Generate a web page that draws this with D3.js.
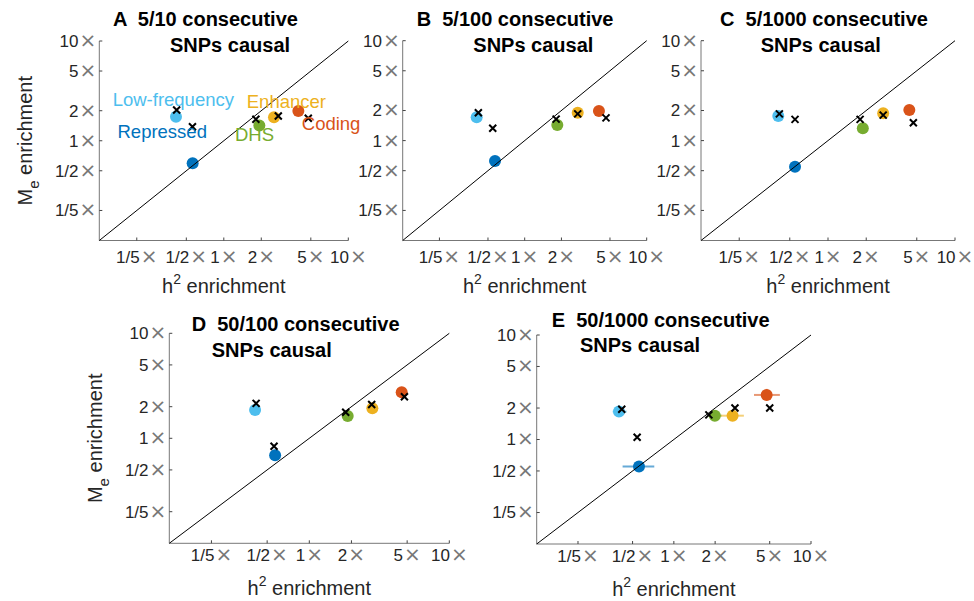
<!DOCTYPE html>
<html lang="en">
<head>
<meta charset="UTF-8">
<title>Me vs h2 enrichment</title>
<script src="https://d3js.org/d3.v7.min.js"></script>
<style>
    body { margin: 0; background: #fff; }
    svg { font-family: "Liberation Sans", Arial, Helvetica, sans-serif; }
</style>
</head>
<body>
<div id="chart"></div>
<script>
    // categories and colours (MATLAB default order)
    var categories = ["Low-frequency", "Repressed", "DHS", "Enhancer", "Coding"];
    var catColors = ["#4DBEEE", "#0072BD", "#77AC30", "#EDB120", "#D95319"];

    var tickValues = [0.2, 0.5, 1, 2, 5, 10];
    var tickLabels = ["1/5", "1/2", "1", "2", "5", "10"];

    var panelLetters = ["A", "B", "C", "D", "E"];
    var panelTitles = ["5/10 consecutive", "5/100 consecutive", "5/1000 consecutive",
                       "50/100 consecutive", "50/1000 consecutive"];

    // estimated enrichments (circles), one value per category
    var estH2_A = [0.413, 0.562, 1.93, 2.53, 3.97];
    var estMe_A = [1.74, 0.594, 1.42, 1.72, 1.99];
    var estH2_B = [0.404, 0.571, 1.85, 2.72, 4.06];
    var estMe_B = [1.71, 0.625, 1.43, 1.90, 1.98];
    var estH2_C = [0.406, 0.55, 1.88, 2.72, 4.37];
    var estMe_C = [1.76, 0.548, 1.33, 1.88, 2.02];
    var estH2_D = [0.41, 0.57, 1.88, 2.82, 4.57];
    var estMe_D = [1.86, 0.69, 1.63, 1.93, 2.74];
    var estH2_E = [0.398, 0.557, 1.99, 2.68, 4.75];
    var estMe_E = [1.85, 0.553, 1.69, 1.69, 2.67];

    // true simulated enrichments (x markers)
    var trueH2_A = [0.418, 0.56, 1.81, 2.74, 4.77];
    var trueMe_A = [2.03, 1.38, 1.64, 1.77, 1.68];
    var trueH2_B = [0.417, 0.547, 1.81, 2.72, 4.64];
    var trueMe_B = [1.90, 1.33, 1.64, 1.85, 1.69];
    var trueH2_C = [0.414, 0.55, 1.79, 2.72, 4.70];
    var trueMe_C = [1.85, 1.63, 1.63, 1.80, 1.51];
    var trueH2_D = [0.417, 0.56, 1.82, 2.79, 4.78];
    var trueMe_D = [2.15, 0.84, 1.77, 2.10, 2.49];
    var trueH2_E = [0.417, 0.54, 1.80, 2.79, 5.0];
    var trueMe_E = [1.95, 1.05, 1.72, 2.0, 2.0];

    // error bars, only visible in panel E
    var errH2Lo_E = [0.358, 0.423, 1.77, 2.19, 3.84];
    var errH2Hi_E = [0.453, 0.72, 2.23, 3.24, 5.93];
    var errMeLo_E = [1.80, 0.54, 1.64, 1.545, 2.36];
    var errMeHi_E = [1.90, 0.565, 1.74, 1.85, 3.05];

    // category label anchors for panel A (data coords)
    var labelH2 = [0.128, 0.14, 1.23, 1.53, 4.23];
    var labelMe = [2.25, 1.06, 0.994, 2.14, 1.28];

    var estH2 = [estH2_A, estH2_B, estH2_C, estH2_D, estH2_E];
    var estMe = [estMe_A, estMe_B, estMe_C, estMe_D, estMe_E];
    var trueH2 = [trueH2_A, trueH2_B, trueH2_C, trueH2_D, trueH2_E];
    var trueMe = [trueMe_A, trueMe_B, trueMe_C, trueMe_D, trueMe_E];

    // axes boxes in pixels
    var boxes = [
        {left: 99.3, right: 348.3, top: 41, bottom: 240.5, tickOff: 22, title: [113, 26, 170, 52], yLabel: true},
        {left: 402.7, right: 646.7, top: 40.7, bottom: 240.5, tickOff: 22, title: [416.7, 26, 473.3, 52], yLabel: false},
        {left: 701, right: 955, top: 40.7, bottom: 240.5, tickOff: 22, title: [720, 26, 760.7, 52], yLabel: false},
        {left: 169.3, right: 449.3, top: 333.3, bottom: 543.3, tickOff: 18, title: [191.7, 330.7, 211.7, 356.7], yLabel: true},
        {left: 536.7, right: 811, top: 335, bottom: 544, tickOff: 18, title: [551.7, 326.7, 580, 351.7], yLabel: false}
    ];

    var svg = d3.select("#chart").append("svg")
        .attr("width", 974)
        .attr("height", 601);

    boxes.forEach(function(b, p) {
        drawPanel(b, p);
    });

    // tick label like "1/2 x"
    function addTickText(sel, label) {
        sel.append("tspan").text(label);
        sel.append("tspan")
            .attr("font-family", "DejaVu Sans")
            .attr("font-size", "20px")
            .attr("dx", 1)
            .attr("fill", "#777")
            .text("\u00d7");
    }

    function drawPanel(b, p) {
        var x = d3.scaleLog().domain([0.1, 10]).range([b.left, b.right]);
        var y = d3.scaleLog().domain([0.1, 10]).range([b.bottom, b.top]);
        var g = svg.append("g");

        // axis lines
        g.append("line").attr("x1", b.left).attr("x2", b.right)
            .attr("y1", b.bottom).attr("y2", b.bottom)
            .attr("stroke", "#777").attr("stroke-width", 1);
        g.append("line").attr("x1", b.left).attr("x2", b.left)
            .attr("y1", b.bottom).attr("y2", b.top)
            .attr("stroke", "#777").attr("stroke-width", 1);

        // ticks pointing inwards
        g.selectAll(".xt").data(tickValues).enter().append("line")
            .attr("x1", function(d) { return x(d); })
            .attr("x2", function(d) { return x(d); })
            .attr("y1", b.bottom).attr("y2", b.bottom - 3)
            .attr("stroke", "#444");
        g.selectAll(".yt").data(tickValues).enter().append("line")
            .attr("y1", function(d) { return y(d); })
            .attr("y2", function(d) { return y(d); })
            .attr("x1", b.left).attr("x2", b.left + 3)
            .attr("stroke", "#444");

        tickValues.forEach(function(v, i) {
            var tx = g.append("text")
                .attr("x", x(v)).attr("y", b.bottom + b.tickOff)
                .attr("text-anchor", "middle")
                .attr("font-size", "17px").attr("fill", "#262626");
            addTickText(tx, tickLabels[i]);
            var ty = g.append("text")
                .attr("x", b.left - 3).attr("y", y(v))
                .attr("dy", "0.35em")
                .attr("text-anchor", "end")
                .attr("font-size", "17px").attr("fill", "#262626");
            addTickText(ty, tickLabels[i]);
        });

        // axis labels
        var xl = g.append("text")
            .attr("x", (b.left + b.right) / 2).attr("y", b.bottom + 52)
            .attr("text-anchor", "middle")
            .attr("font-size", "20px").attr("fill", "#262626");
        xl.append("tspan").text("h");
        xl.append("tspan").attr("font-size", "14px").attr("dy", -9).text("2");
        xl.append("tspan").attr("dy", 9).text(" enrichment");

        if (b.yLabel) {
            var cy = (b.top + b.bottom) / 2;
            var yl = g.append("text")
                .attr("transform", "translate(" + (b.left - 67) + "," + cy + ") rotate(-90)")
                .attr("text-anchor", "middle")
                .attr("font-size", "20px").attr("fill", "#262626");
            yl.append("tspan").text("M");
            yl.append("tspan").attr("font-size", "15px").attr("dy", 7).text("e");
            yl.append("tspan").attr("dy", -7).text(" enrichment");
        }

        // title in two lines
        g.append("text")
            .attr("x", b.title[0]).attr("y", b.title[1])
            .attr("font-size", "20px").attr("font-weight", "bold")
            .attr("xml:space", "preserve")
            .text(panelLetters[p] + "  " + panelTitles[p]);
        g.append("text")
            .attr("x", b.title[2]).attr("y", b.title[3])
            .attr("font-size", "20px").attr("font-weight", "bold")
            .text("SNPs causal");

        // error bars for panel E
        if (p === 4) {
            categories.forEach(function(c, i) {
                g.append("line")
                    .attr("x1", x(errH2Lo_E[i])).attr("x2", x(errH2Hi_E[i]))
                    .attr("y1", y(estMe_E[i])).attr("y2", y(estMe_E[i]))
                    .attr("stroke", catColors[i]).attr("stroke-opacity", 0.6)
                    .attr("stroke-width", 2);
                g.append("line")
                    .attr("x1", x(estH2_E[i])).attr("x2", x(estH2_E[i]))
                    .attr("y1", y(errMeLo_E[i])).attr("y2", y(errMeHi_E[i]))
                    .attr("stroke", catColors[i]).attr("stroke-opacity", 0.6)
                    .attr("stroke-width", 2);
            });
        }

        // estimated points
        g.selectAll(".pt").data(categories).enter().append("circle")
            .attr("cx", function(d, i) { return x(estH2[p][i]); })
            .attr("cy", function(d, i) { return y(estMe[p][i]); })
            .attr("r", 6)
            .attr("fill", function(d, i) { return catColors[i]; });

        // diagonal y = x
        g.append("line")
            .attr("x1", x(0.1)).attr("y1", y(0.1))
            .attr("x2", x(10)).attr("y2", y(10))
            .attr("stroke", "#000").attr("stroke-width", 1);

        // true values as x markers
        categories.forEach(function(c, i) {
            var cx = x(trueH2[p][i]), cy = y(trueMe[p][i]), s = 3.5;
            g.append("path")
                .attr("d", "M" + (cx - s) + "," + (cy - s) + "L" + (cx + s) + "," + (cy + s) +
                           "M" + (cx - s) + "," + (cy + s) + "L" + (cx + s) + "," + (cy - s))
                .attr("stroke", "#000").attr("stroke-width", 2);
        });

        // category labels only in panel A
        if (p === 0) {
            categories.forEach(function(c, i) {
                g.append("text")
                    .attr("x", x(labelH2[i])).attr("y", y(labelMe[i]))
                    .attr("font-size", "18.5px")
                    .attr("fill", catColors[i])
                    .text(c);
            });
        }
    }
</script>
</body>
</html>
